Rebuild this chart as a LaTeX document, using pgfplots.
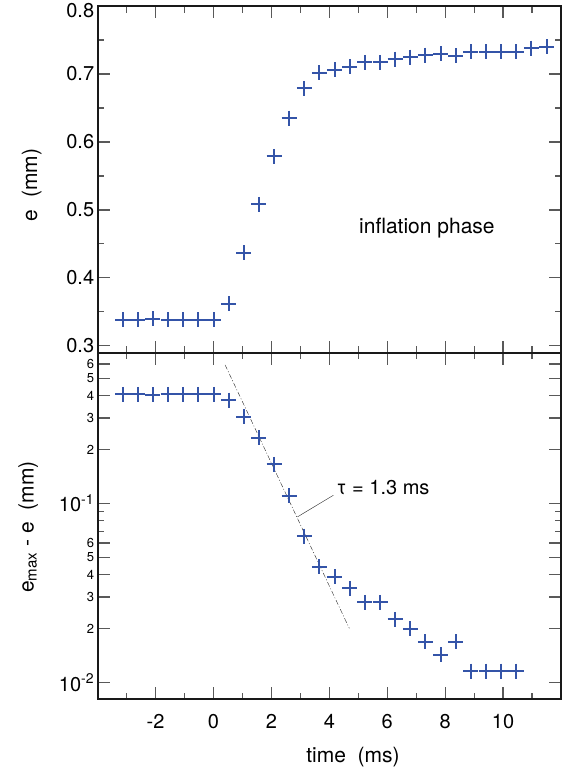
\documentclass[border=0pt]{standalone}
\usepackage{pgfplots}
\pgfplotsset{compat=1.18}
\usepackage{fontspec}
\setmainfont{TeX Gyre Heros}
\definecolor{markblue}{RGB}{52,84,168}

\newcommand{\lbl}{\fontsize{20}{22}\selectfont}
\newcommand{\axlbl}{\fontsize{21}{23}\selectfont}
\newcommand{\sml}[1]{{\fontsize{13}{14}\selectfont #1}}
\newcommand{\dec}[1]{10\textsuperscript{\fontsize{14}{14}\selectfont #1}}

\pgfplotstableread{
t      e
-3.140 0.338
-2.617 0.338
-2.094 0.340
-1.571 0.338
-1.048 0.338
-0.525 0.338
 0.000 0.338
 0.521 0.362
 1.044 0.437
 1.567 0.508
 2.090 0.579
 2.613 0.635
 3.136 0.679
 3.659 0.702
 4.182 0.706
 4.705 0.711
 5.228 0.717
 5.751 0.717
 6.274 0.722
 6.797 0.725
 7.320 0.728
 7.843 0.730
 8.366 0.727
 8.889 0.733
 9.412 0.733
 9.935 0.733
10.458 0.733
10.981 0.738
11.504 0.740
}\inflation

\pgfplotstableread{
t      d
-3.140 0.406
-2.617 0.406
-2.094 0.404
-1.571 0.406
-1.048 0.406
-0.525 0.406
 0.000 0.406
 0.521 0.377
 1.044 0.305
 1.567 0.232
 2.090 0.165
 2.613 0.110
 3.136 0.0657
 3.659 0.0443
 4.182 0.0389
 4.705 0.0335
 5.228 0.0280
 5.751 0.0280
 6.274 0.0225
 6.797 0.0199
 7.320 0.0169
 7.843 0.0143
 8.366 0.0169
 8.889 0.01156
 9.412 0.01156
 9.935 0.01156
10.458 0.01156
}\decay

\pgfplotsset{
  panel/.style={
    scale only axis, width=463.3pt,
    xmin=-4, xmax=12,
    xtick={-4,-2,0,2,4,6,8,10,12},
    minor xtick={-3,-1,1,3,5,7,9,11},
    tick pos=both,
    tick align=inside,
    major tick length=12pt, minor tick length=6.5pt,
    every tick/.style={line width=1.2pt, black!65},
    axis line style={line width=1.8pt, black!90},
    ticklabel style={font=\lbl},
    xticklabel style={yshift=-12pt},
  },
  pts/.style={only marks, mark=+, mark size=7.5pt, line width=2pt, markblue},
}

\begin{document}
\begin{tikzpicture}
\begin{axis}[panel, name=top, at={(0,0)}, anchor=north west,
  height=346.7pt, ymin=0.2897, ymax=0.8,
  ytick={0.3,0.4,0.5,0.6,0.7,0.8},
  yticklabels={0.3,0.4,0.5,0.6,0.7,{\raisebox{-4pt}[\height][0pt]{0.8}}},
  minor ytick={0.35,0.45,0.55,0.65,0.75},
  xticklabels={},
  ylabel={e\ \ (mm)},
  every axis y label/.style={at={(axis description cs:-0.1425,0.484)}, rotate=90, anchor=center, font=\axlbl},
]
  \addplot[pts] table[x=t, y=e] {\inflation};
  \node[anchor=base, font=\axlbl] at (axis cs:7.37,0.4654) {inflation phase};
\end{axis}

\begin{axis}[panel, name=bot, at={(top.south west)}, anchor=north west,
  height=346.3pt, ymode=log, ymin=0.00807, ymax=0.693,
  ytick={0.01,0.02,0.03,0.04,0.05,0.06,0.1,0.2,0.3,0.4,0.5,0.6},
  yticklabels={\dec{-2},\sml{2},\sml{3},\sml{4},\sml{5},\sml{6},\dec{-1},\sml{2},\sml{3},\sml{4},\sml{5},\sml{6}},
  minor ytick={0.07,0.08,0.09},
  xticklabels={,-2,0,2,4,6,8,10,},
  xlabel={time\ \ (ms)},
  ylabel={e\textsubscript{\fontsize{15}{15}\selectfont max} - e\ \ (mm)},
  every axis y label/.style={at={(axis description cs:-0.150,0.497)}, rotate=90, anchor=center, font=\axlbl},
  every axis x label/.style={at={(axis description cs:0.551,-0.1666)}, anchor=center, font=\axlbl},
]
  \addplot[pts] table[x=t, y=d] {\decay};
  % exponential fit, tau = 1.3 ms
  \addplot[thin, black!85, dash pattern=on 5pt off 2pt on 1pt off 2pt] coordinates {(0.40,0.593) (4.69,0.02004)};
  \draw[thin, black!85] (axis cs:2.90,0.0841) -- (axis cs:4.14,0.111);
  \node[anchor=base west, font=\lbl] at (axis cs:4.13,0.1114) {τ = 1.3 ms};
\end{axis}

\pgfresetboundingbox
\path (-97.7pt,6.1pt) rectangle (472.3pt,-767.9pt);
\end{tikzpicture}
\end{document}
